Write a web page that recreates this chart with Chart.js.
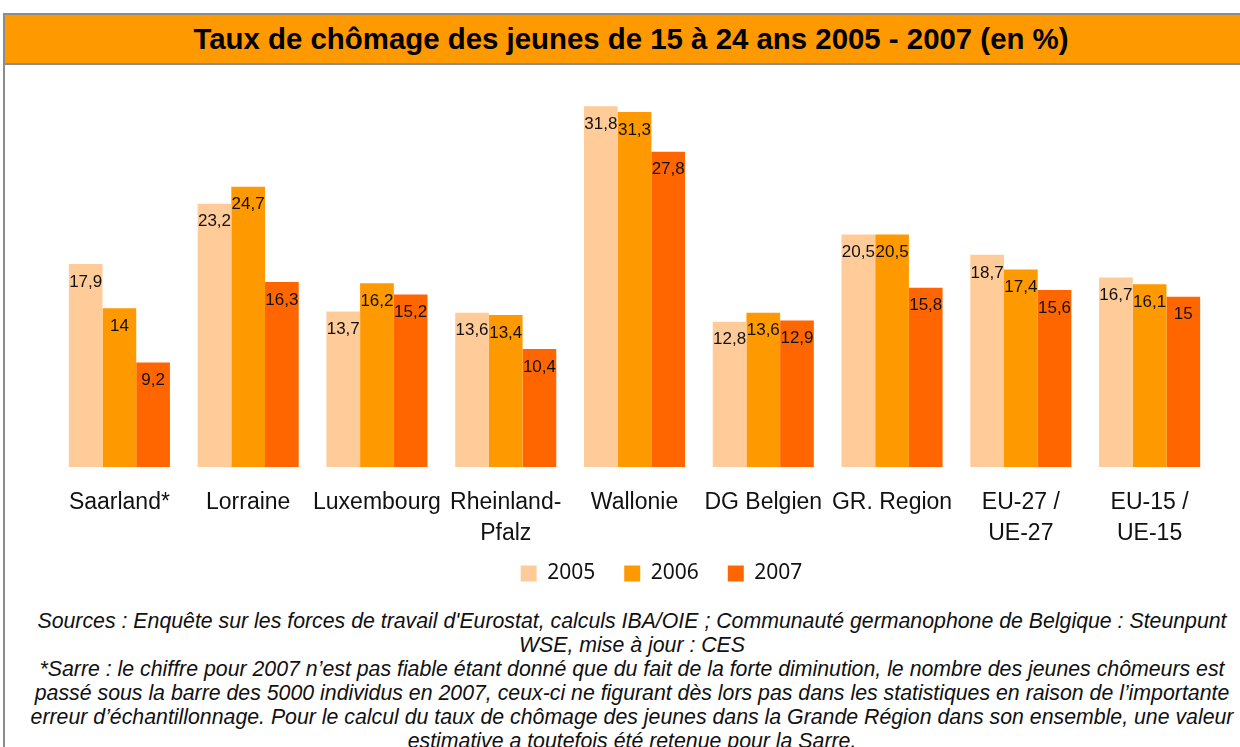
<!DOCTYPE html>
<html>
<head>
<meta charset="utf-8">
<script src="https://cdn.jsdelivr.net/npm/chart.js@4/dist/chart.umd.min.js"></script>
<style>
  html, body { margin: 0; padding: 0; background: #fff; overflow: hidden; }
  body { width: 1240px; height: 747px; position: relative; }
  #frame {
    position: absolute; left: 3px; top: 13px; width: 1256px; height: 760px;
    border: 2px solid #8c8c8c; box-sizing: border-box;
  }
  #titre {
    position: absolute; left: 0; top: 0; width: 100%; height: 48px;
    background: #ff9900; border-bottom: 2px solid #8c8c8c;
    font: bold 29.4px "Liberation Sans", Arial, sans-serif; color: #000;
    text-align: center; line-height: 48px;
  }
  #zone { position: absolute; left: 0; top: 63px; width: 1240px; height: 531px; }
  #notes {
    position: absolute; left: 3px; top: 609px; width: 1258px;
    font: italic 21.3px "Liberation Sans", Arial, sans-serif; color: #111;
    text-align: center; line-height: 24px; white-space: nowrap;
  }
</style>
</head>
<body>
<div id="frame"><div id="titre">Taux de chômage des jeunes de 15 à 24 ans 2005 - 2007 (en %)</div></div>
<div id="zone"><canvas id="graph"></canvas></div>
<div id="notes">
Sources : Enquête sur les forces de travail d'Eurostat, calculs IBA/OIE ; Communauté germanophone de Belgique : Steunpunt<br>
WSE, mise à jour : CES<br>
*Sarre : le chiffre pour 2007 n’est pas fiable étant donné que du fait de la forte diminution, le nombre des jeunes chômeurs est<br>
passé sous la barre des 5000 individus en 2007, ceux-ci ne figurant dès lors pas dans les statistiques en raison de l’importante<br>
erreur d’échantillonnage. Pour le calcul du taux de chômage des jeunes dans la Grande Région dans son ensemble, une valeur<br>
estimative a toutefois été retenue pour la Sarre.
</div>
<script>
// régions (libellés sur deux lignes quand il le faut)
var regions = ['Saarland*', 'Lorraine', 'Luxembourg', ['Rheinland-', 'Pfalz'], 'Wallonie',
               'DG Belgien', 'GR. Region', ['EU-27 /', 'UE-27'], ['EU-15 /', 'UE-15']];
var annees = ['2005', '2006', '2007'];
var taux2005 = [17.9, 23.2, 13.7, 13.6, 31.8, 12.8, 20.5, 18.7, 16.7];
var taux2006 = [14, 24.7, 16.2, 13.4, 31.3, 13.6, 20.5, 17.4, 16.1];
var taux2007 = [9.2, 16.3, 15.2, 10.4, 27.8, 12.9, 15.8, 15.6, 15];
var couleurs = ['#ffcc99', '#ff9900', '#ff6600'];

var RETRAIT_AXE = 35; // l'axe x mord sur la marge haute de la légende
var DECALAGE_LEGENDE = 27; // la légende n'est pas tout à fait centrée dans l'original

// petites étiquettes dans le haut de chaque barre
var etiquettes = {
    id: 'etiquettes',
    afterLayout: function (chart) {
        // on rend la hauteur retirée pour que les libellés ne soient pas coupés
        var x = chart.scales.x;
        x.bottom += RETRAIT_AXE;
        x.height += RETRAIT_AXE;
        chart.legend.left += DECALAGE_LEGENDE;
        chart.legend.right += DECALAGE_LEGENDE;
    },
    afterDatasetsDraw: function (chart) {
        var ctx = chart.ctx;
        ctx.save();
        ctx.font = '17px "Liberation Sans", Arial, sans-serif';
        ctx.fillStyle = '#111';
        ctx.textAlign = 'center';
        ctx.textBaseline = 'middle';
        chart.data.datasets.forEach(function (ds, i) {
            chart.getDatasetMeta(i).data.forEach(function (bar, j) {
                var txt = String(ds.data[j]).replace('.', ',');
                ctx.fillText(txt, bar.x, bar.y + 18);
            });
        });
        ctx.restore();
    }
};

window.addEventListener('load', function () {
    var canvas = document.getElementById('graph');
    if (!canvas) return;
    var series = [taux2005, taux2006, taux2007];
    new Chart(canvas.getContext('2d'), {
        type: 'bar',
        data: {
            labels: regions,
            datasets: series.map(function (s, i) {
                return { label: annees[i], data: s, backgroundColor: couleurs[i],
                         barPercentage: 1, categoryPercentage: 0.785 };
            })
        },
        options: {
            responsive: true,
            maintainAspectRatio: false,
            animation: false,
            layout: { padding: { left: 55, right: 26, top: 7, bottom: 0 } },
            plugins: {
                tooltip: { enabled: false },
                legend: {
                    position: 'bottom',
                    labels: {
                        boxWidth: 16, boxHeight: 16, padding: 29,
                        color: '#111',
                        font: { family: '"Noto Sans", sans-serif', size: 21 }
                    }
                }
            },
            scales: {
                x: {
                    grid: { display: false, drawTicks: false },
                    border: { display: false },
                    ticks: {
                        color: '#111', padding: 20, maxRotation: 0, autoSkip: false,
                        font: { family: '"Liberation Sans", Arial, sans-serif', size: 23, lineHeight: 1.35 }
                    },
                    afterFit: function (scale) { scale.height -= RETRAIT_AXE; }
                },
                y: { display: false, min: 0, max: 35 }
            }
        },
        plugins: [etiquettes]
    });
});
</script>
</body>
</html>
